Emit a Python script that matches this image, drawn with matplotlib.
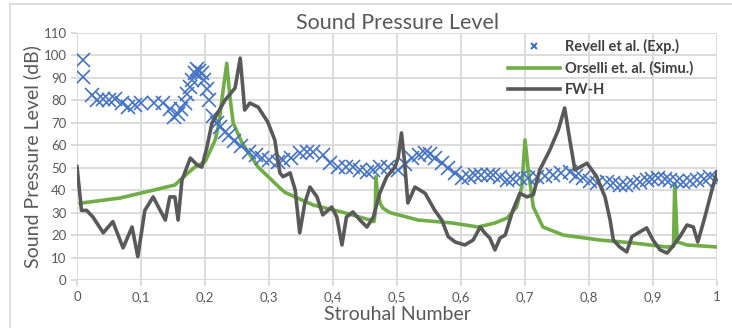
import matplotlib.pyplot as plt
from matplotlib.lines import Line2D
from matplotlib.ticker import FuncFormatter

plt.rcParams['font.family'] = ['Lato', 'DejaVu Sans']

# Revell et al. (experiment) - markers
exp_st = [0.009, 0.009, 0.023, 0.031, 0.04, 0.05, 0.06, 0.07, 0.08, 0.09, 0.1, 0.12,
          0.135, 0.145, 0.152, 0.158, 0.163, 0.168, 0.172, 0.176, 0.18, 0.184, 0.188,
          0.191, 0.195, 0.199, 0.203, 0.207, 0.212, 0.218, 0.224, 0.231, 0.238, 0.245,
          0.257, 0.268, 0.279, 0.289, 0.3, 0.314, 0.322, 0.335, 0.348, 0.36, 0.369,
          0.385, 0.395, 0.408, 0.42, 0.431, 0.442, 0.453, 0.463, 0.473, 0.486, 0.502,
          0.512, 0.523, 0.534, 0.544, 0.552, 0.559, 0.57, 0.58, 0.59, 0.601, 0.612,
          0.622, 0.632, 0.642, 0.65, 0.661, 0.672, 0.682, 0.692, 0.705, 0.718, 0.731,
          0.744, 0.757, 0.77, 0.78, 0.791, 0.802, 0.812, 0.828, 0.838, 0.848, 0.858,
          0.869, 0.879, 0.89, 0.899, 0.908, 0.918, 0.927, 0.937, 0.947, 0.958, 0.969,
          0.979, 0.989, 1.0]
exp_db = [98, 90.5, 82.5, 80, 80.5, 80, 80.5, 79, 77, 78, 79, 79,
          79, 76, 72.5, 74, 76, 79, 83, 86, 89, 92, 94,
          93, 92, 89, 85, 80, 73, 70, 68, 66, 64.5, 62,
          59.5, 57, 55.5, 54.5, 53.5, 52.7, 53.4, 54.5, 56.5, 57, 57,
          55.6, 52, 50.3, 50.5, 50.3, 49, 48, 49, 50.3, 50.3, 49,
          51.5, 54.3, 55.5, 56.5, 56, 54.5, 52, 50, 47.5, 45.4, 46,
          46.8, 46.8, 46.8, 46.8, 46, 44.5, 45, 45.4, 45.5, 46, 46.3,
          46.8, 47.5, 48, 46.5, 45.4, 44, 43, 43.7, 43, 42.3, 42.5,
          43, 43.5, 44.5, 45, 45.4, 45, 44.5, 44, 43.7, 44, 44.5,
          45, 46, 44.5]

# Orselli et al. (simulation)
sim_st = [0.005, 0.01, 0.067, 0.119, 0.153, 0.161, 0.184, 0.2, 0.216, 0.222, 0.227,
          0.234, 0.239, 0.244, 0.258, 0.283, 0.317, 0.325, 0.369, 0.42, 0.458, 0.464,
          0.466, 0.467, 0.469, 0.474, 0.478, 0.489, 0.533, 0.586, 0.627, 0.653, 0.672,
          0.687, 0.695, 0.7, 0.705, 0.713, 0.728, 0.76, 0.817, 0.869, 0.921, 0.932,
          0.934, 0.936, 0.938, 0.953, 1.0]
sim_db = [34, 34.4, 36.5, 40, 42.3, 44.5, 50.3, 52.6, 62.4, 70, 81.7,
          96.5, 81.5, 70, 61, 50.3, 41, 39, 33.4, 29.8, 26.7, 26,
          30, 46, 40, 34, 32, 30, 26.7, 25.4, 23.6, 25.4, 27.6,
          32.5, 41.4, 62.4, 49, 32.5, 23.6, 20, 17.8, 16.5, 14.7, 15,
          43, 30, 17, 15.6, 14.7]

# FW-H
fwh_st = [0.0, 0.007, 0.015, 0.025, 0.041, 0.056, 0.072, 0.086, 0.095, 0.106, 0.119,
          0.13, 0.138, 0.145, 0.153, 0.158, 0.164, 0.177, 0.188, 0.195, 0.203, 0.211,
          0.231, 0.247, 0.255, 0.259, 0.262, 0.27, 0.283, 0.298, 0.309, 0.317, 0.322,
          0.333, 0.341, 0.348, 0.356, 0.364, 0.375, 0.384, 0.398, 0.406, 0.414, 0.421,
          0.431, 0.442, 0.453, 0.463, 0.473, 0.484, 0.497, 0.502, 0.507, 0.512, 0.517,
          0.528, 0.544, 0.559, 0.57, 0.58, 0.591, 0.606, 0.619, 0.63, 0.637, 0.645,
          0.653, 0.661, 0.669, 0.681, 0.692, 0.703, 0.713, 0.723, 0.739, 0.752, 0.762,
          0.77, 0.778, 0.786, 0.797, 0.812, 0.825, 0.833, 0.838, 0.848, 0.859, 0.867,
          0.877, 0.89, 0.9, 0.911, 0.922, 0.93, 0.942, 0.953, 0.963, 0.97, 0.981,
          0.992, 1.0]
fwh_db = [50.5, 31, 31, 28, 21, 26, 14.3, 23.6, 10.4, 31, 37,
          31, 26.7, 37, 37, 26.7, 44.5, 54.3, 51.2, 50.3, 59.2, 70,
          80, 85.5, 98.8, 86, 75.7, 78.8, 77, 70.4, 62.4, 47.7, 46,
          47.7, 40, 21, 34.3, 41.4, 37, 29, 32.5, 28, 15.6, 28,
          30.3, 26.7, 23.6, 28, 38.6, 46, 50.3, 54.8, 65.5, 52, 34.3,
          41.4, 38.6, 31, 26.7, 19.3, 16.9, 15.6, 17.8, 23.6, 21, 18.7,
          13.4, 18.7, 20, 31, 38.6, 37, 38, 49, 58, 66.8, 76.6,
          62.4, 49, 50.3, 52, 46, 37, 26.7, 17.8, 14.7, 12.5, 19.3,
          21, 23.2, 17.8, 13.4, 12, 14.7, 19.3, 24.5, 23.6, 16.9, 28,
          40, 48]

text_gray = '#595959'
grid_gray = '#D9D9D9'

fig = plt.figure(figsize=(7.32, 3.28), dpi=100)
ax = fig.add_axes([77 / 732, 48 / 328, 640 / 732, 247 / 328])

ax.plot(exp_st, exp_db, linestyle='none', marker='x', markersize=10,
        markeredgewidth=1.2, color='#4472C4', label='Revell et al. (Exp.)', zorder=3)
ax.plot(sim_st, sim_db, color='#70AD47', linewidth=2.6,
        label='Orselli et. al. (Simu.)', zorder=2, solid_joinstyle='round')
ax.plot(fwh_st, fwh_db, color='#595959', linewidth=2.6, label='FW-H', zorder=4,
        solid_joinstyle='round')

ax.set_xlim(0, 1)
ax.set_ylim(0, 110)
ax.set_xticks([i / 10 for i in range(11)])
ax.set_yticks(range(0, 111, 10))


def comma_fmt(v, pos):
    s = ('%.1f' % v).rstrip('0').rstrip('.')
    return s.replace('.', ',')


ax.xaxis.set_major_formatter(FuncFormatter(comma_fmt))
ax.grid(True, color=grid_gray, linewidth=1.3)
ax.set_axisbelow(True)
for side in ['top', 'right', 'bottom', 'left']:
    ax.spines[side].set_visible(False)
ax.tick_params(axis='both', colors=grid_gray, labelcolor=text_gray, labelsize=9.5,
               length=4, width=1.3)
ax.tick_params(axis='x', pad=4)

ax.set_title('Sound Pressure Level', color=text_gray, fontsize=15.5, pad=1)
ax.set_xlabel('Strouhal Number', color=text_gray, fontsize=14, labelpad=2)
ax.set_ylabel('Sound Pressure Level (dB)', color=text_gray, fontsize=14, labelpad=2)

handles = [
    Line2D([], [], linestyle='none', marker='x', markersize=5, markeredgewidth=1.5,
           color='#4472C4'),
    Line2D([], [], color='#70AD47', linewidth=2.6),
    Line2D([], [], color='#595959', linewidth=2.6),
]
labels = ['Revell et al. (Exp.)', 'Orselli et. al. (Simu.)', 'FW-H']
leg = ax.legend(handles, labels, loc='upper left', bbox_to_anchor=(0.664, 1.0),
                frameon=False, fontsize=10.5, handlelength=3.6, labelspacing=0.5,
                handletextpad=0.3, borderaxespad=0.0)
for t in leg.get_texts():
    t.set_fontweight('bold')
    t.set_color('#404040')

# outer chart border (top and left visible)
fig.add_artist(Line2D([10 / 732, 1.0], [1 - 4 / 328, 1 - 4 / 328],
                      transform=fig.transFigure, color=grid_gray, linewidth=1.2))
fig.add_artist(Line2D([10 / 732, 10 / 732], [0.0, 1 - 4 / 328],
                      transform=fig.transFigure, color=grid_gray, linewidth=1.2))

fig.savefig('out.png', dpi=100)
